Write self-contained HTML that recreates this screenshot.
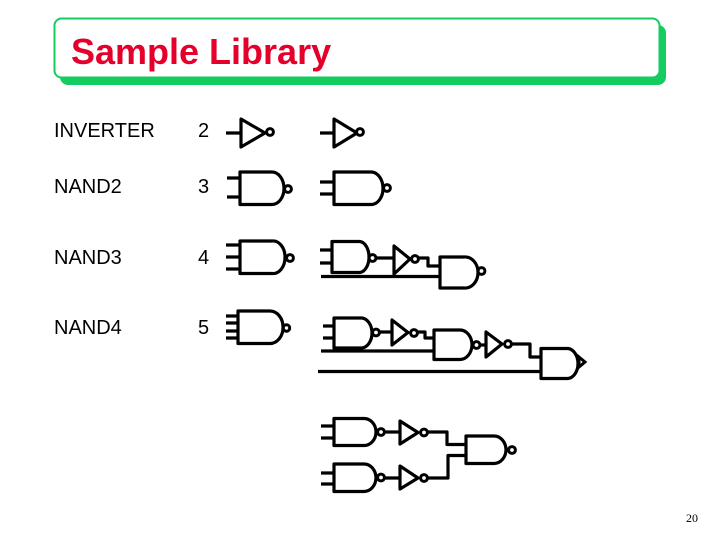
<!DOCTYPE html>
<html>
<head>
<meta charset="utf-8">
<style>
html,body{margin:0;padding:0;background:#fff;width:720px;height:540px;overflow:hidden}
svg{display:block}
.w{fill:none;stroke:#000;stroke-width:3.2;stroke-linejoin:round;stroke-linecap:butt}
.b{fill:#fff;stroke:#000;stroke-width:3}
.t{font-family:"Liberation Sans",Arial,sans-serif;font-size:20px;fill:#000}
</style>
</head>
<body>
<svg width="720" height="540" viewBox="0 0 720 540" xmlns="http://www.w3.org/2000/svg">
<rect x="0" y="0" width="720" height="540" fill="#fff"/>
<rect x="60" y="25" width="606" height="60" rx="8" fill="#14cc60"/>
<rect x="54.500" y="18.500" width="605" height="59" rx="7" fill="#fff" stroke="#14cc60" stroke-width="2"/>
<text x="71" y="64" font-family="'Liberation Sans',Arial,sans-serif" font-size="36px" font-weight="bold" fill="#e4002b">Sample Library</text>

<text class="t" x="54" y="137">INVERTER</text>
<text class="t" x="198" y="137">2</text>
<text class="t" x="54" y="193">NAND2</text>
<text class="t" x="198" y="193">3</text>
<text class="t" x="54" y="264">NAND3</text>
<text class="t" x="198" y="264">4</text>
<text class="t" x="54" y="334">NAND4</text>
<text class="t" x="198" y="334">5</text>
<text x="686" y="522" font-family="'Liberation Serif','Times New Roman',serif" font-size="12px" fill="#000">20</text>

<!-- Row 1 inverters -->
<path class="w" d="M226 133H241M241 119V147L265 133Z"/>
<circle class="b" cx="270" cy="132" r="3.4"/>
<path class="w" d="M320 133H334M334 119V147L357 133Z"/>
<circle class="b" cx="360" cy="132" r="3.4"/>

<!-- Row 2 NAND -->
<path class="w" d="M227 178H240M227 197H240M240 172H272A12 16.500 0 0 1 284 188.500A12 16 0 0 1 272 204.500H240Z"/>
<circle class="b" cx="288" cy="189" r="3.4"/>
<path class="w" d="M320 182H334M320 194H334M334 172H372A12 16.500 0 0 1 383 188.500A12 16 0 0 1 372 204.500H334Z"/>
<circle class="b" cx="387" cy="188" r="3.4"/>

<!-- Row 3 -->
<path class="w" d="M226 245H240M226 257H240M226 269H240M240 241H272A12 16 0 0 1 285 257A12 16 0 0 1 272 273.500H240Z"/>
<circle class="b" cx="290" cy="258" r="3.4"/>
<path class="w" d="M320 250H332M320 263H332M332 241.500H360A10 15.500 0 0 1 369 257A10 15.500 0 0 1 360 272.500H332Z"/>
<circle class="b" cx="372.500" cy="258" r="3.4"/>
<path class="w" d="M376 258H394M394 246V274L410 259Z"/>
<circle class="b" cx="415" cy="259" r="3.4"/>
<path class="w" d="M419 258H428V266H440M321 276.500H440M440 257H464A13 15.500 0 0 1 478 272.500A13 15.500 0 0 1 464 288H440Z"/>
<circle class="b" cx="481.500" cy="271" r="3.4"/>

<!-- Row 4 -->
<path class="w" d="M226 316H238M226 323H238M226 331H238M226 338H238M238 311H270A13 16 0 0 1 283 327A13 16 0 0 1 270 343.500H238Z"/>
<circle class="b" cx="286.500" cy="328" r="3.2"/>
<path class="w" d="M323 326H334M323 338H334M334 318H362A11 15 0 0 1 372 333A11 15 0 0 1 362 348H334Z"/>
<circle class="b" cx="376" cy="332.500" r="3.4"/>
<path class="w" d="M380 332H392M392 320V345L408 332.500Z"/>
<circle class="b" cx="414" cy="333" r="3.4"/>
<path class="w" d="M418 332H425V338H434M321 351H434M434 330H460A12 15 0 0 1 472 345A12 15 0 0 1 460 359.500H434Z"/>
<circle class="b" cx="476.500" cy="345" r="3.4"/>
<path class="w" d="M480 345H486M486 332V357L502 344Z"/>
<circle class="b" cx="508" cy="344" r="3.4"/>
<path class="w" d="M512 344H530V357H541M318 371.500H541M541 348.500H568A11 15 0 0 1 578 363A11 15 0 0 1 568 378.500H541Z"/>
<path class="b" d="M579 357L585 362L579 367Z"/>

<!-- Bottom group -->
<path class="w" d="M321 426H334M321 438H334M334 418.500H364A12 13.500 0 0 1 376 432A12 13.500 0 0 1 364 445.500H334Z"/>
<circle class="b" cx="381" cy="432" r="3.4"/>
<path class="w" d="M385 432H400M400 421V444L418 432.500Z"/>
<circle class="b" cx="424" cy="432.500" r="3.4"/>
<path class="w" d="M321 473H334M321 484H334M334 464H364A12 14 0 0 1 376 478A12 14 0 0 1 364 491.500H334Z"/>
<circle class="b" cx="381" cy="477.500" r="3.4"/>
<path class="w" d="M385 478H400M400 466V489L418 478Z"/>
<circle class="b" cx="424" cy="478" r="3.4"/>
<path class="w" d="M428 432H447V444.500H466M428 478H448V455.500H466M466 436H494A12 14 0 0 1 506 450A12 14 0 0 1 494 463.500H466Z"/>
<circle class="b" cx="512" cy="450" r="3.4"/>
</svg>
</body>
</html>
